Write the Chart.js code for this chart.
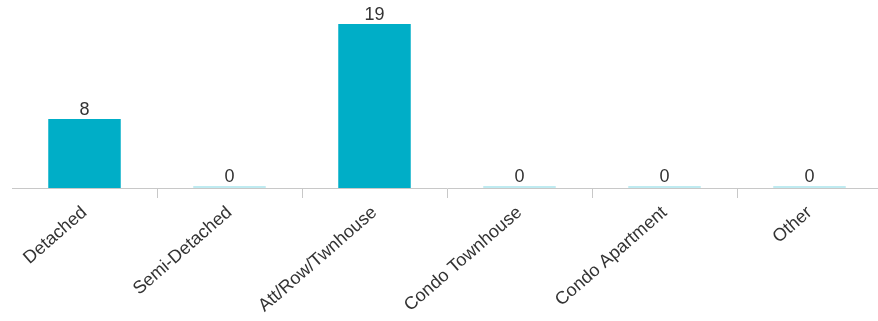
<!DOCTYPE html>
<html><head><meta charset="utf-8">
<script src="https://cdn.jsdelivr.net/npm/chart.js@4/dist/chart.umd.min.js"></script>
<style>html,body{margin:0;padding:0;background:#fff;overflow:hidden;}#wrap{width:882px;height:321px;position:relative;}</style>
</head><body><div id="wrap"><canvas id="c"></canvas></div>
<script>
const categories = ["Detached", "Semi-Detached", "Att/Row/Twnhouse", "Condo Townhouse", "Condo Apartment", "Other"];
const counts = [8, 0, 19, 0, 0, 0];

const valueLabels = {
  id: 'valueLabels',
  afterDatasetsDraw(chart) {
    const ctx = chart.ctx;
    const meta = chart.getDatasetMeta(0);
    ctx.save();
    ctx.font = '18px "Liberation Sans", Arial, sans-serif';
    ctx.fillStyle = '#333333';
    ctx.textAlign = 'center';
    ctx.textBaseline = 'alphabetic';
    meta.data.forEach((bar, i) => {
      ctx.fillText(String(counts[i]), bar.x, bar.y - 4);
    });
    ctx.restore();
  }
};

new Chart(document.getElementById('c'), {
  type: 'bar',
  data: {
    labels: categories,
    datasets: [{
      data: counts,
      backgroundColor: ctx => counts[ctx.dataIndex] === 0 ? 'rgba(0,174,199,0.25)' : '#00AEC7',
      minBarLength: 2,
      categoryPercentage: 1,
      barPercentage: 0.5
    }]
  },
  options: {
    responsive: true,
    maintainAspectRatio: false,
    animation: false,
    layout: { padding: { left: 12, right: 0, top: 24, bottom: 0 } },
    plugins: { legend: { display: false }, tooltip: { enabled: false } },
    scales: {
      y: { display: false, min: 0, max: 19 },
      x: {
        offset: true,
        border: { color: '#c8c8c8', width: 1 },
        grid: {
          offset: true,
          drawOnChartArea: false,
          drawTicks: true,
          tickLength: 10,
          color: ctx => (ctx.index === 0 || ctx.index === categories.length) ? 'rgba(0,0,0,0)' : '#c8c8c8'
        },
        ticks: {
          minRotation: 41,
          maxRotation: 41,
          autoSkip: false,
          padding: 4,
          color: '#333333',
          font: { family: '"Liberation Sans", Arial, sans-serif', size: 18 }
        },
        afterFit(scale) { scale.height = 133; }
      }
    }
  },
  plugins: [valueLabels]
});
</script></body></html>
